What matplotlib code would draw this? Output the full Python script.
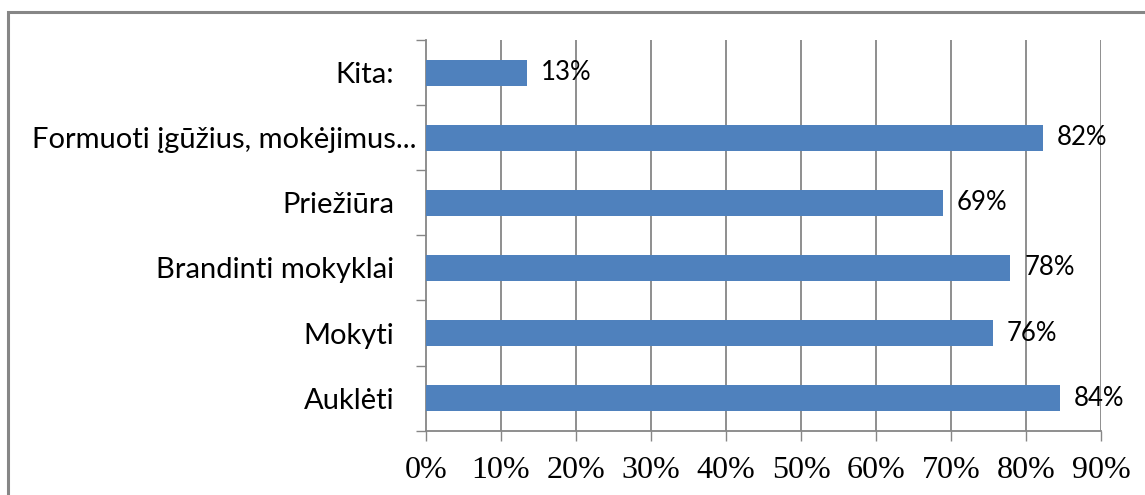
import matplotlib
matplotlib.use("Agg")
import matplotlib.pyplot as plt
import matplotlib.transforms as mtransforms
from matplotlib.patches import Rectangle

# categories bottom -> top
categories = ["Auklėti", "Mokyti", "Brandinti mokyklai", "Priežiūra",
              "Formuoti įgūžius, mokėjimus...", "Kita:"]
values = [84.5, 75.6, 77.9, 68.9, 82.2, 13.4]
value_labels = ["84%", "76%", "78%", "69%", "82%", "13%"]
xticks = [0, 10, 20, 30, 40, 50, 60, 70, 80, 90]
xtick_labels = [f"{t}%" for t in xticks]

W, H = 1145, 495
fig = plt.figure(figsize=(W / 100, H / 100), dpi=100)
fig.patch.set_facecolor("white")

# outer chart border (clipped by image on right/bottom)
fig.patches.append(Rectangle((7.5 / W, -0.1), 1.2, 1 - 12 / H + 0.1,
                             transform=fig.transFigure, fill=False,
                             edgecolor="#868686", linewidth=2.2))

ax = fig.add_axes([426 / W, 1 - 430.7 / H, (1101 - 426) / W, (430.7 - 40) / H])

grid_col = "#868686"
ypos = list(range(len(categories)))
ax.barh(ypos, values, height=0.4, color="#4F81BD", zorder=3)

for y, v, lab in zip(ypos, values, value_labels):
    ax.annotate(lab, (v, y), xytext=(10, 0), textcoords="offset points",
                va="center", ha="left", fontsize=18.5, family="Lato",
                color="black", zorder=4)

ax.set_xlim(0, 90)
ax.set_ylim(-0.5, len(categories) - 0.5)

ax.set_xticks(xticks)
ax.set_xticklabels(xtick_labels, family="Liberation Serif", fontsize=23)
for t in xticks[1:]:
    ax.axvline(t, color=grid_col, linewidth=1.3, zorder=1)

# category axis: labels at centers, ticks at boundaries
ax.set_yticks([y - 0.5 for y in ypos] + [len(categories) - 0.5])
ax.set_yticklabels([])
ax.set_yticks(ypos, minor=True)
ax.set_yticklabels(categories, minor=True, family="Lato", fontsize=21)
ax.tick_params(axis="y", which="minor", length=0, pad=23)
ax.tick_params(axis="y", which="major", length=7.5, width=1.0, color=grid_col, direction="out")
ax.tick_params(axis="x", length=7.5, width=1.0, color=grid_col, direction="out", pad=11)

# long label sits closer to the axis
for lab in ax.get_yticklabels(minor=True):
    if lab.get_text().startswith("Formuoti"):
        lab.set_transform(lab.get_transform() +
                          mtransforms.ScaledTranslation(22 / 100, 0, fig.dpi_scale_trans))

for s in ["top", "right"]:
    ax.spines[s].set_visible(False)
for s in ["left", "bottom"]:
    ax.spines[s].set_color(grid_col)
    ax.spines[s].set_linewidth(1.3)

fig.savefig("out.png", dpi=100)
